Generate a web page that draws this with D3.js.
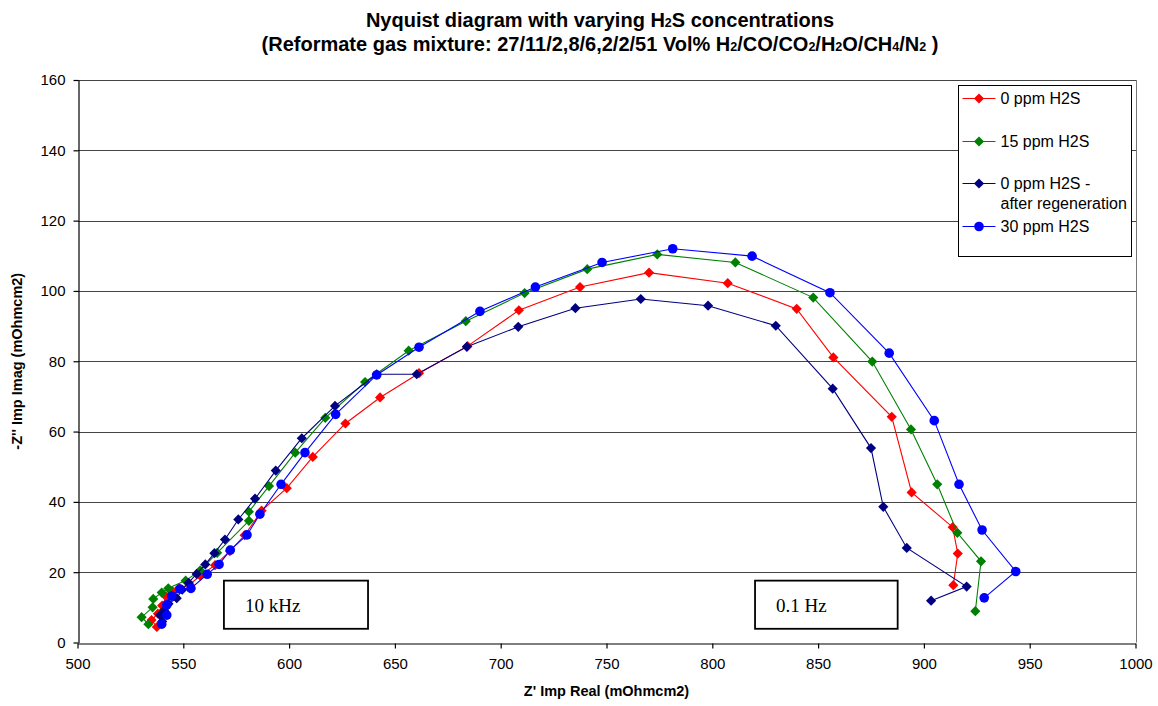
<!doctype html>
<html lang="en">
  <head>
    <meta charset="UTF-8" />
    <title>Nyquist diagram with varying H2S concentrations</title>
    <script src="https://d3js.org/d3.v7.min.js"></script>
    <style>
      body { margin: 0; background: #fff; }
      svg { font-family: 'Liberation Sans', Arial, sans-serif; }
      .tick text { font-size: 15px; fill: #000; }
      .axis path, .axis line { stroke: #000; }
      .grid line { stroke: #444; shape-rendering: crispEdges; }
    </style>
  </head>
  <body>
    <svg width="1158" height="706"></svg>
    <script>
      // Series values [Z' real, -Z'' imag]
      const red0ppm = [
        [537.5, 4.4], [535, 6.4], [538, 8.2], [540, 10.5], [542, 13], [545, 14.5],
        [548, 15.5], [553, 16.5], [558, 19], [565, 22], [572, 26], [579, 30.5],
        [587, 37.5], [598.9, 43.9], [611.2, 52.8], [626.6, 62.3], [643, 69.7],
        [661.4, 76.6], [684.3, 84.3], [708.6, 94.5], [737.5, 101.1], [770.1, 105.2],
        [807.3, 102.2], [839.9, 94.9], [857.2, 81.1], [884.8, 64.2], [894.2, 42.7],
        [913.6, 32.8], [916, 25.3], [913.9, 16.3]
      ];
      const green15ppm = [
        [533.5, 5.2], [530.3, 7.2], [535.5, 10], [535.8, 12.4], [539.8, 14.2],
        [542.9, 15.4], [551.1, 17.6], [558, 20.5], [566, 25.5], [581, 34.6],
        [581, 37.2], [590.5, 44.5], [602.9, 54], [617.1, 63.9], [635.9, 74.1],
        [656.5, 83], [683.5, 91.4], [711.3, 99.4], [740.9, 106.2], [774, 110.4],
        [810.9, 108.1], [847.7, 98.1], [875.6, 79.9], [893.9, 60.6], [906.3, 45],
        [915.8, 31.2], [927, 23.1], [924.3, 8.9]
      ];
      const navyRegen = [
        [540, 6], [539, 7.8], [541, 9.2], [543, 11], [546.9, 12.6], [549.5, 15],
        [552.5, 17], [556.3, 19.5], [560.4, 22.2], [564.7, 25.4], [569.7, 29.3],
        [576, 35], [583.9, 40.9], [593.7, 48.9], [606, 58.1], [621.7, 67.3],
        [641.4, 76.3], [660.3, 76.3], [684, 84.1], [708.3, 89.8], [735.3, 95.1],
        [766.2, 97.7], [798, 95.8], [830, 90.1], [856.9, 72.2], [875, 55.3],
        [880.8, 38.6], [891.9, 26.9], [920.2, 15.9], [903.4, 11.9]
      ];
      const blue30ppm = [
        [539.8, 5.2], [542.2, 7.8], [542.2, 10.7], [544.5, 13.2], [548.4, 15.2],
        [553.6, 15.4], [561.3, 19.4], [566.9, 22.2], [572.2, 26.3], [580.1, 30.6],
        [586.2, 36.5], [596.2, 45], [607.5, 54], [622, 64.9], [641.4, 76.1],
        [661.4, 84], [690.2, 94.2], [716.4, 101.1], [747.9, 108.1], [781.3, 112],
        [818.8, 109.9], [855.6, 99.5], [883.6, 82.3], [904.9, 63.1], [916.6, 45],
        [927.5, 32], [943.4, 20.2], [928.5, 12.7]
      ];

      const seriesNames = ['0 ppm H2S', '15 ppm H2S', '0 ppm H2S - after regeneration', '30 ppm H2S'];
      const seriesColors = ['#ff0000', '#008000', '#000080', '#0000ff'];
      const seriesShapes = ['diamond', 'diamond', 'diamond', 'circle'];
      const seriesData = [red0ppm, green15ppm, navyRegen, blue30ppm];

      const xTicks = [500, 550, 600, 650, 700, 750, 800, 850, 900, 950, 1000];
      const yTicks = [0, 20, 40, 60, 80, 100, 120, 140, 160];

      // frequency annotation boxes: label, x range, y range (data units)
      const freqLabels = ['10 kHz', '0.1 Hz'];
      const freqBoxX = [[569.2, 637.3], [820.2, 887.6]];
      const freqBoxY = [3.9, 17.6];

      const margin = { top: 80, right: 22.5, bottom: 63.5, left: 77.5 };
      const W = 1158, H = 706;
      const svg = d3.select('svg');

      const x = d3.scaleLinear().domain([500, 1000]).range([margin.left, W - margin.right]);
      const y = d3.scaleLinear().domain([0, 160]).range([H - margin.bottom, margin.top]);

      // gridlines
      svg.append('g')
        .attr('class', 'grid')
        .selectAll('line')
        .data(yTicks.filter((d) => d > 0))
        .enter()
        .append('line')
        .attr('x1', x(500))
        .attr('x2', x(1000))
        .attr('y1', (d) => Math.round(y(d)) + 0.5)
        .attr('y2', (d) => Math.round(y(d)) + 0.5);

      // right border of plot area
      svg.append('line')
        .attr('x1', Math.round(x(1000)) + 0.5)
        .attr('x2', Math.round(x(1000)) + 0.5)
        .attr('y1', y(160))
        .attr('y2', y(0))
        .attr('stroke', '#777');

      // axes
      const xAxis = svg.append('g')
        .attr('class', 'axis')
        .attr('transform', `translate(0,${Math.round(y(0)) + 0.5})`)
        .call(d3.axisBottom(x).tickValues(xTicks).tickFormat(d3.format('d'))
          .tickSize(5).tickSizeOuter(0).tickPadding(10));
      xAxis.selectAll('path, line').attr('stroke-width', 1.2);

      const yAxis = svg.append('g')
        .attr('class', 'axis')
        .attr('transform', `translate(${Math.round(x(500)) + 0.5},0)`)
        .call(d3.axisLeft(y).tickValues(yTicks).tickSize(5).tickSizeOuter(0).tickPadding(8));
      yAxis.selectAll('path, line').attr('stroke-width', 1.2);

      // series lines and markers
      const line = d3.line().x((d) => x(d[0])).y((d) => y(d[1]));
      const diamond = d3.symbol().type(d3.symbolDiamond2).size(66);

      seriesData.forEach((data, i) => {
        svg.append('path')
          .datum(data)
          .attr('fill', 'none')
          .attr('stroke', seriesColors[i])
          .attr('stroke-width', 1.1)
          .attr('d', line);

        const g = svg.append('g').attr('fill', seriesColors[i]);
        if (seriesShapes[i] === 'circle') {
          g.selectAll('circle')
            .data(data)
            .enter()
            .append('circle')
            .attr('cx', (d) => x(d[0]))
            .attr('cy', (d) => y(d[1]))
            .attr('r', 4.8);
        } else {
          g.selectAll('path')
            .data(data)
            .enter()
            .append('path')
            .attr('d', diamond)
            .attr('transform', (d) => `translate(${x(d[0])},${y(d[1])})`);
        }
      });

      // frequency boxes
      freqLabels.forEach((lab, i) => {
        const bx = freqBoxX[i];
        svg.append('rect')
          .attr('x', x(bx[0]))
          .attr('y', y(freqBoxY[1]))
          .attr('width', x(bx[1]) - x(bx[0]))
          .attr('height', y(freqBoxY[0]) - y(freqBoxY[1]))
          .attr('fill', '#fff')
          .attr('stroke', '#000')
          .attr('stroke-width', 1.8);
        svg.append('text')
          .attr('x', x(bx[0]) + 21)
          .attr('y', y(freqBoxY[0]) - 17)
          .attr('font-family', "'Liberation Serif', 'Times New Roman', serif")
          .attr('font-size', 19)
          .text(lab);
      });

      // legend
      const legend = svg.append('g').attr('transform', 'translate(958.5,85.5)');
      legend.append('rect')
        .attr('width', 173)
        .attr('height', 171)
        .attr('fill', '#fff')
        .attr('stroke', '#000')
        .attr('stroke-width', 1);
      const legY = [13, 56, 98, 141];
      seriesNames.forEach((name, i) => {
        const item = legend.append('g').attr('transform', `translate(0,${legY[i]})`);
        item.append('line')
          .attr('x1', 4).attr('x2', 37)
          .attr('stroke', seriesColors[i]).attr('stroke-width', 1.1);
        if (seriesShapes[i] === 'circle') {
          item.append('circle').attr('cx', 20.5).attr('r', 4.8).attr('fill', seriesColors[i]);
        } else {
          item.append('path').attr('d', diamond).attr('transform', 'translate(20.5,0)').attr('fill', seriesColors[i]);
        }
        const t = item.append('text')
          .attr('x', 42)
          .attr('y', 5.5)
          .attr('font-size', 16);
        if (i === 2) {
          t.append('tspan').text('0 ppm H2S -');
          t.append('tspan').attr('x', 42).attr('dy', 20).text('after regeneration');
        } else {
          t.text(name);
        }
      });

      // titles
      const title = svg.append('g')
        .attr('font-weight', 'bold')
        .attr('font-size', 20)
        .attr('text-anchor', 'middle');
      const t1 = title.append('text').attr('x', 600).attr('y', 27);
      t1.append('tspan').text('Nyquist diagram with varying H');
      t1.append('tspan').attr('font-size', 12.5).text('2');
      t1.append('tspan').text('S concentrations');

      const t2 = title.append('text').attr('x', 600).attr('y', 51);
      const parts = [
        ['(Reformate gas mixture: 27/11/2,8/6,2/2/51 Vol% H', 0], ['2', 1], ['/CO/CO', 0], ['2', 1],
        ['/H', 0], ['2', 1], ['O/CH', 0], ['4', 1], ['/N', 0], ['2', 1], [' )', 0]
      ];
      parts.forEach((p) => {
        t2.append('tspan').attr('font-size', p[1] ? 12.5 : null).text(p[0]);
      });

      svg.append('text')
        .attr('x', (x(500) + x(1000)) / 2)
        .attr('y', 696)
        .attr('text-anchor', 'middle')
        .attr('font-weight', 'bold')
        .attr('font-size', 14.5)
        .text("Z' Imp Real (mOhmcm2)");

      svg.append('text')
        .attr('transform', `translate(22,${(y(0) + y(160)) / 2}) rotate(-90)`)
        .attr('text-anchor', 'middle')
        .attr('font-weight', 'bold')
        .attr('font-size', 14.5)
        .text("-Z'' Imp Imag (mOhmcm2)");
    </script>
  </body>
</html>
